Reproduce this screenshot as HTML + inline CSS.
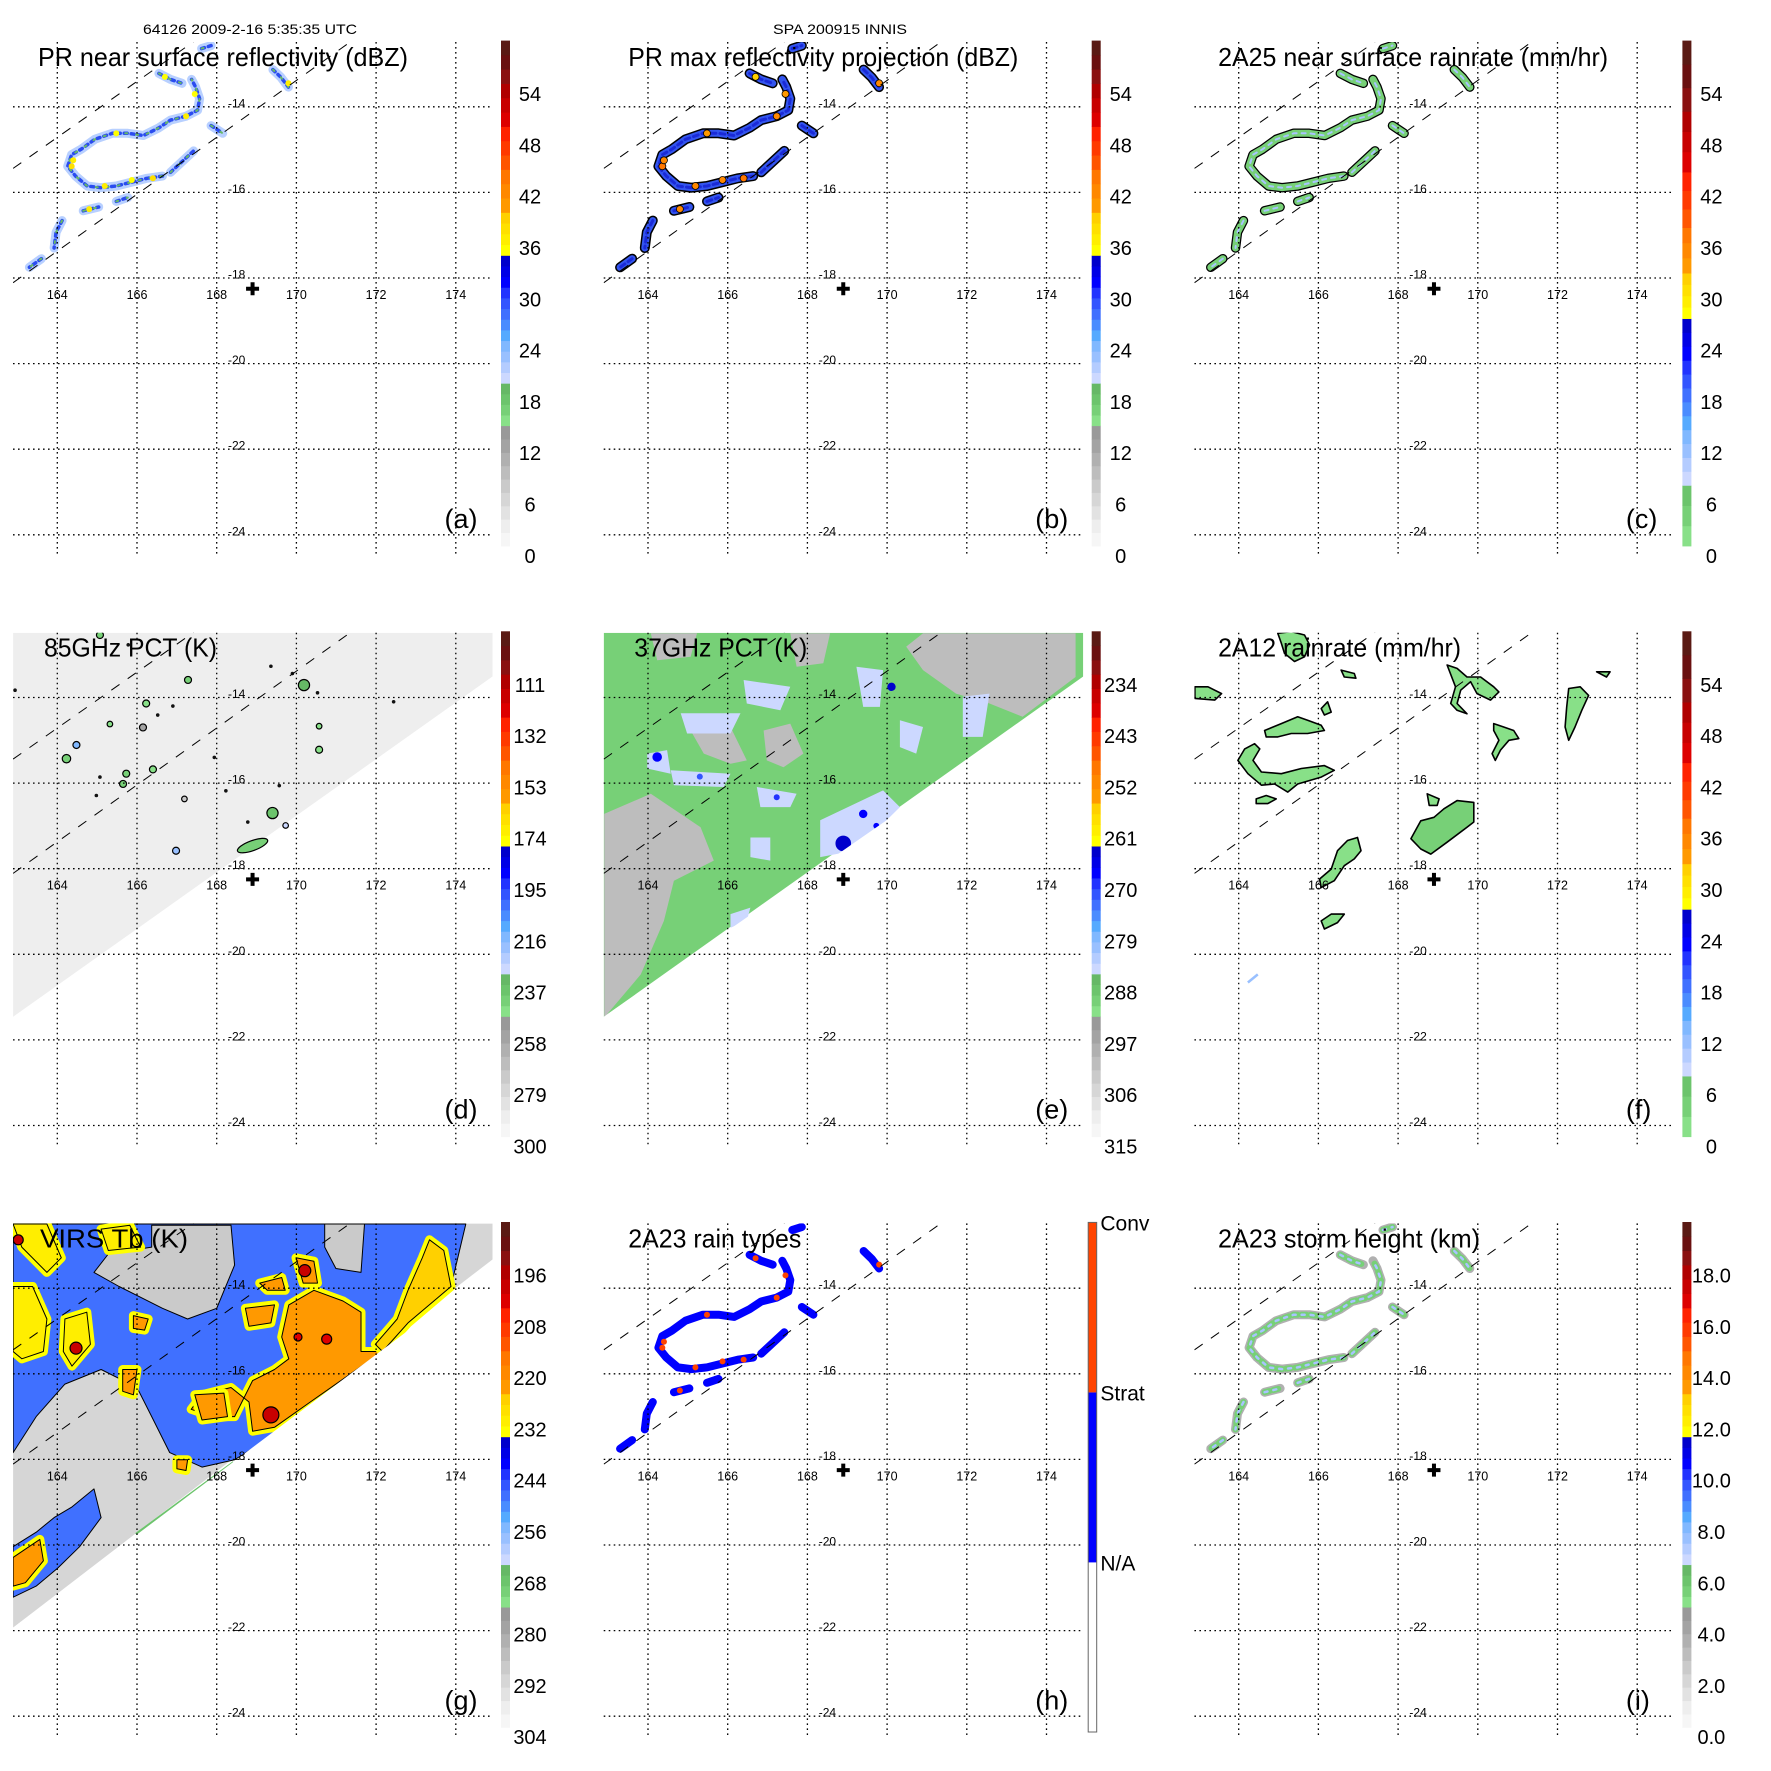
<!DOCTYPE html>
<html><head><meta charset="utf-8"><style>
html,body{margin:0;padding:0;background:#fff;}
svg{display:block;font-family:"Liberation Sans",Arial,sans-serif;}
</style></head><body>
<svg id="fig" width="1771" height="1771" viewBox="0 0 1771 1771" xmlns="http://www.w3.org/2000/svg">
<defs><clipPath id="plotclip" clipPathUnits="userSpaceOnUse"><rect x="13" y="42" width="479.5" height="512"/></clipPath></defs>
<rect x="0" y="0" width="1771" height="1771" fill="#fff"/>
<text x="250" y="34" font-size="14" text-anchor="middle" textLength="214" lengthAdjust="spacingAndGlyphs">64126 2009-2-16 5:35:35 UTC</text>
<text x="840" y="34" font-size="14" text-anchor="middle" textLength="134" lengthAdjust="spacingAndGlyphs">SPA 200915 INNIS</text>
</svg>
<script>
// ---------- shared axis data ----------
const lonTicks = [164,166,168,170,172,174];
const latTicks = [-14,-16,-18,-20,-22,-24];
const labelsDBZ = ['0','6','12','18','24','30','36','42','48','54'];
const labelsRain = ['0','6','12','18','24','30','36','42','48','54'];
const labels85 = ['300','279','258','237','216','195','174','153','132','111'];
const labels37 = ['315','306','297','288','279','270','261','252','243','234'];
const labelsIR = ['304','292','280','268','256','244','232','220','208','196'];
const labelsHt = ['0.0','2.0','4.0','6.0','8.0','10.0','12.0','14.0','16.0','18.0'];
const rainTypeLabels = ['N/A','Strat','Conv'];

// ---------- TRMM swath edges (lon/lat) ----------
const swathEdgeLon = [[162.89,171.36],[162.89,167.42]];
const swathEdgeLat = [[-18.11,-12.48],[-15.44,-12.48]];
const tmiSwathLon = [162.89,174.92,174.92,162.89];
const tmiSwathLat = [-12.49,-12.49,-13.51,-21.46];
const irSwathLat = [-12.49,-12.49,-13.33,-21.93];
const centerLon = 168.9, centerLat = -18.25;

// ---------- PR rain band (polylines lon/lat) ----------
const bandLons = [
 [166.64,166.25,165.87,165.48,165.09,164.75,164.46,164.26,164.36,164.60,164.94,165.38,165.77,166.16,166.55,166.84,167.23,167.52,167.57,167.47,167.37],
 [166.55,166.84,167.13],[167.62,167.86],[169.41,169.61,169.80],[164.65,165.04],
 [164.12,163.97,163.92],[167.86,168.15],[165.48,165.77],[166.84,167.42],[163.60,163.30]
];
const bandLats = [
 [-15.62,-15.67,-15.76,-15.85,-15.89,-15.85,-15.62,-15.39,-15.12,-14.99,-14.76,-14.62,-14.62,-14.67,-14.49,-14.31,-14.22,-14.08,-13.81,-13.54,-13.36],
 [-13.22,-13.36,-13.45],[-12.64,-12.57],[-13.13,-13.31,-13.54],[-16.43,-16.34],
 [-16.66,-16.93,-17.30],[-14.44,-14.62],[-16.21,-16.12],[-15.53,-15.03],[-17.55,-17.75]
];
const coreLon = [164.36,164.40,165.19,165.87,166.40,167.23,165.48,164.80,169.80,167.45,166.70];
const coreLat = [-15.39,-15.25,-15.85,-15.71,-15.67,-14.22,-14.62,-16.39,-13.45,-13.70,-13.30];
const coreDBZa = [38,37,37,36,38,37,36,37,37,36,36];
const coreDBZb = [44,42,43,42,44,42,41,42,42,41,40];

// ---------- 2A12 rain blobs ----------
const fBlobLons = [
 [164.65,165.07,165.48,165.73,166.07,166.15,165.73,165.32,164.98,164.69],
 [163.98,164.15,164.40,164.53,164.36,164.57,165.07,165.57,166.15,166.40,166.07,165.48,165.23,164.90,164.57,164.23],
 [164.98,165.32,165.65,165.78,165.65,165.40,165.15,165.07],
 [169.23,169.48,169.73,170.07,170.40,170.53,170.32,169.98,169.82,169.57,169.48,169.73,169.48,169.32,169.44],
 [170.40,170.65,170.90,171.03,170.78,170.57,170.44,170.36,170.53,170.40],
 [172.28,172.57,172.78,172.61,172.44,172.28,172.19,172.23],
 [168.32,168.57,168.90,169.15,169.48,169.90,169.90,169.73,169.23,168.82,168.57],
 [166.48,166.73,166.98,167.07,166.90,166.65,166.40,166.07,166.03,166.32],
 [166.07,166.32,166.65,166.48,166.15],
 [164.44,164.69,164.94,164.73,164.44],
 [166.07,166.23,166.32,166.15],[166.57,166.90,166.94,166.65],[172.98,173.32,173.23],
 [162.90,163.23,163.57,163.40,162.90],[168.73,169.03,168.98,168.78]
];
const fBlobLats = [
 [-14.77,-14.61,-14.45,-14.53,-14.65,-14.77,-14.84,-14.84,-14.92,-14.92],
 [-15.47,-15.20,-15.08,-15.20,-15.47,-15.74,-15.78,-15.66,-15.59,-15.70,-15.86,-16.02,-16.21,-16.02,-16.05,-15.78],
 [-12.50,-12.46,-12.54,-12.77,-13.05,-13.16,-12.97,-12.73],
 [-13.24,-13.32,-13.52,-13.52,-13.75,-13.87,-14.06,-13.91,-13.63,-13.83,-14.14,-14.38,-14.30,-14.14,-13.75],
 [-14.61,-14.69,-14.77,-14.96,-15.00,-15.23,-15.47,-15.31,-15.00,-14.77],
 [-13.79,-13.75,-13.95,-14.30,-14.69,-15.00,-14.69,-14.22],
 [-17.30,-16.88,-16.80,-16.60,-16.41,-16.45,-16.91,-17.03,-17.38,-17.66,-17.54],
 [-17.58,-17.34,-17.27,-17.58,-17.77,-17.93,-18.28,-18.44,-18.24,-18.01],
 [-19.22,-19.06,-19.06,-19.26,-19.41],
 [-16.37,-16.29,-16.37,-16.48,-16.48],
 [-14.26,-14.10,-14.34,-14.41],[-13.36,-13.44,-13.55,-13.52],[-13.40,-13.40,-13.52],
 [-13.75,-13.75,-13.91,-14.06,-14.02],[-16.25,-16.37,-16.52,-16.52]
];
const fBlobRain = [3,3,3,3,3,3,4,3,3,3,2,2,2,3,2];
const fLineLon = [164.23,164.48], fLineLat = [-20.66,-20.47], fLineRain = 12;

// ---------- 85 GHz PCT cells ----------
const dDotLon = [167.28,170.19,166.23,166.15,164.48,164.23,166.40,165.73,165.65,169.40,168.90,166.98,170.57,170.57,165.07,164.98,167.19,168.23,168.78,169.73,172.44,167.94,169.57,169.90,169.36,170.53,165.07,165.78,162.94,165.32,166.90,166.52];
const dDotLat = [-13.59,-13.71,-14.14,-14.70,-15.11,-15.43,-15.68,-15.78,-16.02,-16.70,-17.46,-17.58,-14.67,-15.22,-15.86,-16.29,-16.37,-16.18,-16.91,-16.99,-14.10,-15.40,-16.06,-13.44,-13.27,-13.89,-12.54,-12.77,-13.83,-14.62,-14.20,-14.41];
const dDotTb = [240,232,245,255,215,240,245,240,240,236,240,220,245,245,270,270,270,270,270,225,270,270,270,270,270,270,240,195,270,245,270,270];
const dDotSize = [5,8,5,5,5,6,5,5,5,8,16,5,4,5,3,3,4,3,3,4,3,3,3,3,3,3,5,3,3,4,3,3];
const dBgTb = 290;

// ---------- 37 GHz PCT patches ----------
const ePatchLons = [
 [162.90,164.07,165.32,165.65,164.65,164.40,163.82,162.90],
 [170.90,174.73,174.73,173.40,172.57,171.73,170.90,170.48],
 [165.07,166.07,166.48,166.07,165.40],[166.90,167.57,167.90,167.40,166.98],
 [164.07,165.23,165.07,164.23],[167.57,168.57,168.40,167.73],
 [163.98,164.48,164.57,163.98],[164.57,166.07,165.90,164.65],[164.82,166.32,166.07,164.98],
 [166.40,167.57,167.32,166.48],[168.32,169.90,170.32,169.23,168.32],[169.23,169.90,169.82,169.40],
 [170.32,170.90,170.73,170.32],[171.90,172.57,172.40,171.90],[166.57,167.07,167.07,166.57],
 [166.07,166.57,166.48,166.07],[166.73,167.73,167.57,166.82]
];
const ePatchLats = [
 [-16.72,-16.25,-17.03,-17.81,-18.28,-19.22,-20.47,-21.48],
 [-12.50,-12.50,-13.52,-14.45,-14.14,-13.91,-13.36,-12.81],
 [-14.77,-14.69,-15.47,-15.55,-15.31],[-14.77,-14.61,-15.31,-15.63,-15.47],
 [-12.50,-12.50,-13.05,-13.13],[-12.50,-12.50,-13.20,-13.28],
 [-15.31,-15.23,-15.78,-15.66],[-15.70,-15.78,-16.09,-16.05],[-14.37,-14.37,-14.84,-14.84],
 [-13.59,-13.75,-14.30,-14.14],[-16.87,-16.17,-16.56,-17.57,-17.73],[-13.28,-13.36,-14.22,-14.22],
 [-14.53,-14.69,-15.31,-15.16],[-13.98,-13.91,-14.92,-14.92],[-17.27,-17.27,-17.81,-17.73],
 [-19.06,-18.91,-19.22,-19.38],[-16.09,-16.25,-16.56,-16.56]
];
const ePatchTb = [300,300,300,300,300,300,283,283,283,283,283,283,283,283,283,283,283];
const eSpotLon = [164.23,170.11,168.90,169.40,167.23,169.73,165.30];
const eSpotLat = [-15.39,-13.75,-17.41,-16.72,-16.33,-17.00,-15.85];
const eSpotTb = [266,264,263,266,268,266,270];
const eSpotSize = [8,7,13,7,5,5,5];
const eBgTb = 290;

// ---------- VIRS IR Tb polygons ----------
const gPolyLons = [
 [162.89,174.25,173.88,172.16,170.17,168.45,167.63,166.82,166.37,166.00,165.10,164.19,163.47,162.89],
 [162.89,163.47,163.92,164.37,164.92,165.10,164.56,164.01,163.47,162.89],
 [166.37,168.36,168.45,168.00,167.27,166.64,165.55,164.92,165.28,166.37],
 [170.71,171.71,171.62,170.99,170.71],
 [169.81,170.44,171.17,171.62,171.62,172.16,170.35,169.45,168.90,168.81,168.36,167.63,167.36,167.90,168.45,168.90,169.45,169.81,169.63],
 [171.98,172.53,172.80,173.16,173.34,173.70,173.88,172.80,172.16],
 [162.89,163.74,164.10,163.74,163.11],
 [162.89,163.38,163.74,163.65,163.11,162.89],
 [164.19,164.74,164.83,164.37,164.15],
 [162.89,163.29,163.56,163.65,163.20,162.89],
 [165.64,166.00,165.91,165.64],[165.91,166.28,166.19,165.91],[168.72,169.45,169.36,168.81],
 [169.99,170.44,170.53,170.17],[169.08,169.63,169.72,169.27],[167.00,167.27,167.23,167.00],
 [167.45,168.18,168.27,167.63],[165.10,165.82,166.09,165.28]
];
const gPolyLats = [
 [-12.50,-12.50,-13.96,-15.48,-17.00,-18.01,-18.18,-17.84,-17.00,-16.32,-15.90,-16.24,-17.00,-17.84],
 [-20.04,-19.70,-19.36,-19.11,-18.69,-19.36,-20.04,-20.54,-20.96,-21.22],
 [-12.53,-12.53,-13.46,-14.47,-14.72,-14.47,-13.96,-13.63,-13.20,-13.04],
 [-12.50,-12.50,-13.63,-13.54,-13.04],
 [-14.39,-14.05,-14.30,-14.56,-15.48,-15.48,-16.66,-17.25,-17.34,-16.66,-16.32,-16.49,-16.83,-17.00,-17.00,-16.16,-15.90,-15.65,-15.14],
 [-15.31,-14.72,-14.05,-13.29,-12.87,-13.12,-13.96,-14.81,-15.48],
 [-12.50,-12.50,-13.29,-13.63,-13.04],
 [-13.96,-13.96,-14.72,-15.48,-15.65,-15.48],
 [-14.72,-14.56,-15.31,-15.82,-15.48],
 [-20.29,-20.04,-19.87,-20.37,-20.88,-20.96],
 [-15.90,-15.90,-16.49,-16.41],[-14.64,-14.72,-14.98,-14.94],[-14.47,-14.39,-14.81,-14.89],
 [-13.29,-13.37,-13.88,-13.88],[-13.88,-13.75,-14.05,-14.05],[-18.01,-18.01,-18.26,-18.22],
 [-16.49,-16.45,-17.00,-17.08],[-12.62,-12.53,-13.04,-13.12]
];
const gPolyTb = [247,247,286,286,221,226,231,231,231,221,221,221,221,221,221,221,221,231];
const gSpotLon = [169.36,170.21,170.76,170.04,163.02,164.47];
const gSpotLat = [-16.96,-13.59,-15.19,-15.14,-12.87,-15.40];
const gSpotTb = [200,200,202,202,200,200];
const gSpotSize = [8,6,5,4,5,6];
const gFringeLon = [166.0,168.45], gFringeLat = [-19.78,-18.10], gFringeTb = 268;
const gBgTb = 292;

// ---------- geometry helpers ----------
const NS = 'http://www.w3.org/2000/svg';
const SPACING = 590.7;
const X = lon => 57.3 + (lon - 164) * 39.85;
const Y = lat => 106.8 + (-14 - lat) * 42.8;
const BAR_TOP = 40.6, BAR_BOT = 546, LBL0 = 556.3, LSTEP = 51.3;

const segStd = [
 [0,0.238,['#f6f6f6','#eeeeee','#e2e2e2','#d6d6d6','#cacaca','#bdbdbd','#b0b0b0','#a3a3a3','#999999']],
 [0.238,0.322,['#88e088','#77d077','#6cc46c','#66b866']],
 [0.322,0.575,['#ccd8ff','#b4ccff','#99c0ff','#80b8ff','#55aaff','#4a8cff','#4070ff','#3355ff','#2233ff','#0000ff','#0000e6','#0000cc']],
 [0.575,0.66,['#ffff00','#ffee00','#ffe000','#ffd000']],
 [0.66,0.745,['#ff9900','#ff8800','#ff7700']],
 [0.745,0.83,['#ff5500','#ff3a00','#ff2200']],
 [0.83,0.915,['#dd0000','#c80000','#b00000']],
 [0.915,1,['#8a1010','#6a1010','#5a1a14']]
];
const segRain = [
 [0,0.12,['#88e088','#77d077','#6cc46c']],
 [0.12,0.45,['#ccd8ff','#b4ccff','#99c0ff','#80b8ff','#55aaff','#4a8cff','#4070ff','#3355ff','#2233ff','#0000ff','#0000e6','#0000cc']],
 [0.45,0.54,['#ffff00','#ffee00','#ffe000','#ffd000']],
 [0.54,0.63,['#ff9900','#ff8800','#ff7700']],
 [0.63,0.74,['#ff5500','#ff3a00','#ff2200']],
 [0.74,0.86,['#dd0000','#c80000','#b00000']],
 [0.86,1,['#8a1010','#6a1010','#5a1a14']]
];
function cmap(frac, segs){
  frac = Math.max(0, Math.min(0.9999, frac));
  for (const s of segs){ if (frac >= s[0] && frac < s[1]){ const k = Math.floor((frac - s[0]) / (s[1] - s[0]) * s[2].length); return s[2][Math.min(k, s[2].length - 1)]; } }
  return '#000';
}
function fracOf(v, v0, step){ const y = LBL0 - ((v - v0) / step) * LSTEP; return (BAR_BOT - y) / (BAR_BOT - BAR_TOP); }
function mk(tag, parent){ const e = document.createElementNS(NS, tag); parent.appendChild(e); return e; }
function polyPath(lons, lats){ let d = ''; for (let i = 0; i < lons.length; i++) d += (i ? 'L' : 'M') + X(lons[i]).toFixed(1) + ' ' + Y(lats[i]).toFixed(1); return d + 'Z'; }
function linePath(lons, lats){ let d = ''; for (let i = 0; i < lons.length; i++) d += (i ? 'L' : 'M') + X(lons[i]).toFixed(1) + ' ' + Y(lats[i]).toFixed(1); return d; }

const panels = [
 {id:'a', col:0,row:0, title:'PR near surface reflectivity (dBZ)', tx:38, tw:370, segs:segStd, labels:labelsDBZ, v0:0, step:6},
 {id:'b', col:1,row:0, title:'PR max reflectivity projection (dBZ)', tx:37.6, tw:390, segs:segStd, labels:labelsDBZ, v0:0, step:6},
 {id:'c', col:2,row:0, title:'2A25 near surface rainrate (mm/hr)', tx:36.7, tw:390, segs:segRain, labels:labelsRain, v0:0, step:6},
 {id:'d', col:0,row:1, title:'85GHz PCT (K)', tx:44, tw:173, segs:segStd, labels:labels85, v0:300, step:-21},
 {id:'e', col:1,row:1, title:'37GHz PCT (K)', tx:43.6, tw:173, segs:segStd, labels:labels37, v0:315, step:-9},
 {id:'f', col:2,row:1, title:'2A12 rainrate (mm/hr)', tx:36.7, tw:243, segs:segRain, labels:labelsRain, v0:0, step:6},
 {id:'g', col:0,row:2, title:'VIRS Tb (K)', tx:40, tw:148, segs:segStd, labels:labelsIR, v0:304, step:-12},
 {id:'h', col:1,row:2, title:'2A23 rain types', tx:37.6, tw:173, segs:null, labels:rainTypeLabels},
 {id:'i', col:2,row:2, title:'2A23 storm height (km)', tx:36.6, tw:262, segs:segStd, labels:labelsHt, v0:0, step:2}
];

const svg = document.getElementById('fig');

function drawBand(g, p){
  const col = v => cmap(fracOf(v, p.v0, p.step), p.segs);
  const layers = {
    a: [['#b8d0ff',9,null],['#2a4cf0',3.5,'3 4'],['#66b866',2,'2 9']],
    b: [['#000',10,null],['#3355ee',7,null],['#1a2ad8',3,'5 4']],
    c: [['#000',9.5,null],['#77d077',7,null],['#a8c4ff',2,'4 5']],
    h: [['#0000ff',8,null]],
    i: [['#b0b0b0',9,null],['#77d077',6,'5 4'],['#a8c4ff',2.5,'3 6']]
  }[p.id];
  layers.forEach(L => {
    for (let k = 0; k < bandLons.length; k++){
      const pl = mk('path', g);
      
      
      pl.setAttribute('d', linePath(bandLons[k], bandLats[k]));
      pl.setAttribute('fill', 'none');
      pl.setAttribute('stroke', L[0]);
      pl.setAttribute('stroke-width', L[1]);
      pl.setAttribute('stroke-linecap', 'round');
      pl.setAttribute('stroke-linejoin', 'round');
      if (L[2]) pl.setAttribute('stroke-dasharray', L[2]);
    }
  });
  if (p.id === 'a' || p.id === 'b' || p.id === 'h'){
    for (let k = 0; k < coreLon.length; k++){
      const c = mk('circle', g);
      
      
      c.setAttribute('cx', X(coreLon[k]));
      c.setAttribute('cy', Y(coreLat[k]));
      c.setAttribute('r', p.id === 'b' ? 3.5 : 3);
      c.setAttribute('fill', p.id === 'h' ? '#ff4400' : col(p.id === 'a' ? coreDBZa[k] : coreDBZb[k]));
      if (p.id === 'b') { c.setAttribute('stroke', '#000'); c.setAttribute('stroke-width', '0.8'); }
    }
  }
}

function drawPoly(g, lons, lats, fill, stroke, sw, name){
  const pth = mk('path', g);
  
  
  pth.setAttribute('d', polyPath(lons, lats));
  pth.setAttribute('fill', fill);
  if (stroke){ pth.setAttribute('stroke', stroke); pth.setAttribute('stroke-width', sw); pth.setAttribute('stroke-linejoin', 'round'); }
  return pth;
}
function drawDot(g, lon, lat, r, fill, stroke, name){
  const c = mk('circle', g);
  
  
  c.setAttribute('cx', X(lon)); c.setAttribute('cy', Y(lat)); c.setAttribute('r', r);
  c.setAttribute('fill', fill);
  if (stroke){ c.setAttribute('stroke', stroke); c.setAttribute('stroke-width', 1.2); }
}

panels.forEach(p => {
  const pg = mk('g', svg);
  
  
  pg.setAttribute('transform', 'translate(' + (p.col * SPACING) + ',' + (p.row * SPACING) + ')');
  const col = v => cmap(fracOf(v, p.v0, p.step), p.segs);

  const dg = mk('g', pg);
  
  
  dg.setAttribute('clip-path', 'url(#plotclip)');

  if (p.id === 'd'){
    drawPoly(dg, tmiSwathLon, tmiSwathLat, col(dBgTb), null, 0, 'tmi-swath');
    for (let k = 0; k < dDotLon.length; k++){
      const big = dDotSize[k] >= 4;
      if (dDotSize[k] >= 14){
        const e = mk('ellipse', dg);
        
        
        e.setAttribute('cx', X(dDotLon[k])); e.setAttribute('cy', Y(dDotLat[k]));
        e.setAttribute('rx', dDotSize[k]); e.setAttribute('ry', 5);
        e.setAttribute('transform', 'rotate(-20 ' + X(dDotLon[k]) + ' ' + Y(dDotLat[k]) + ')');
        e.setAttribute('fill', col(dDotTb[k])); e.setAttribute('stroke', '#000'); e.setAttribute('stroke-width', 1.2);
      } else {
        drawDot(dg, dDotLon[k], dDotLat[k], big ? dDotSize[k] * 0.7 : 1.8, big ? col(dDotTb[k]) : '#111', big ? '#000' : null, 'pct-cell');
      }
    }
  }
  if (p.id === 'e'){
    drawPoly(dg, tmiSwathLon, tmiSwathLat, col(eBgTb), null, 0, 'tmi-swath');
    for (let k = 0; k < ePatchLons.length; k++) drawPoly(dg, ePatchLons[k], ePatchLats[k], col(ePatchTb[k]), null, 0, 'pct-patch');
    for (let k = 0; k < eSpotLon.length; k++) drawDot(dg, eSpotLon[k], eSpotLat[k], eSpotSize[k] * 0.6, col(eSpotTb[k]), null, 'pct-spot');
    drawPoly(dg, [174.92,174.92,162.89,162.89,175.5], [-13.51,-25,-25,-21.46,-13.3], '#fff', null, 0, 'swath-mask');
  }
  if (p.id === 'g'){
    drawPoly(dg, tmiSwathLon, irSwathLat, col(gBgTb), null, 0, 'ir-swath');
    for (let k = 0; k < gPolyLons.length; k++){
      const yl = gPolyTb[k] < 232 ? col(232) : null;
      if (yl) drawPoly(dg, gPolyLons[k], gPolyLats[k], yl, yl, 9, 'ir-cloud-edge');
      drawPoly(dg, gPolyLons[k], gPolyLats[k], col(gPolyTb[k]), '#000', 1, 'ir-cloud');
    }
    for (let k = 0; k < gSpotLon.length; k++) drawDot(dg, gSpotLon[k], gSpotLat[k], gSpotSize[k], col(gSpotTb[k]), '#000', 'ir-cold-spot');
    const fr = mk('path', dg);
    
    
    fr.setAttribute('d', linePath(gFringeLon, gFringeLat));
    fr.setAttribute('stroke', col(gFringeTb)); fr.setAttribute('stroke-width', 6); fr.setAttribute('fill', 'none');
    drawPoly(dg, [174.92,174.92,162.89,162.89,175.5], [-13.33,-25,-25,-21.93,-13.1], '#fff', null, 0, 'swath-mask');
  }
  if (p.id === 'f'){
    for (let k = 0; k < fBlobLons.length; k++) drawPoly(dg, fBlobLons[k], fBlobLats[k], col(fBlobRain[k]), '#000', 1.6, 'rain-blob');
    const fl = mk('path', dg);
    
    
    fl.setAttribute('d', linePath(fLineLon, fLineLat));
    fl.setAttribute('stroke', col(fLineRain)); fl.setAttribute('stroke-width', 2.5); fl.setAttribute('fill', 'none');
  }
  if (['a','b','c','h','i'].includes(p.id)) drawBand(dg, p);

  for (let k = 0; k < swathEdgeLon.length; k++){
    const sl = mk('path', dg);
    
    
    sl.setAttribute('d', linePath(swathEdgeLon[k], swathEdgeLat[k]));
    sl.setAttribute('stroke', '#000'); sl.setAttribute('stroke-width', 1); sl.setAttribute('stroke-dasharray', '10 10'); sl.setAttribute('fill', 'none');
  }

  lonTicks.forEach(lon => {
    const l = mk('line', pg);
    
    
    l.setAttribute('x1', X(lon)); l.setAttribute('x2', X(lon)); l.setAttribute('y1', 42); l.setAttribute('y2', 554);
    l.setAttribute('stroke', '#000'); l.setAttribute('stroke-width', 1.3); l.setAttribute('stroke-dasharray', '1.6 3.4');
    const t = mk('text', pg);
    
    
    t.setAttribute('x', X(lon)); t.setAttribute('y', 299); t.setAttribute('font-size', 12.5); t.setAttribute('text-anchor', 'middle');
    t.textContent = String(lon);
  });
  latTicks.forEach(lat => {
    const l = mk('line', pg);
    
    
    l.setAttribute('x1', 13); l.setAttribute('x2', 492.5); l.setAttribute('y1', Y(lat)); l.setAttribute('y2', Y(lat));
    l.setAttribute('stroke', '#000'); l.setAttribute('stroke-width', 1.3); l.setAttribute('stroke-dasharray', '1.6 3.4');
    const t = mk('text', pg);
    
    
    t.setAttribute('x', 228); t.setAttribute('y', Y(lat) + 0.5); t.setAttribute('font-size', 12);
    t.textContent = String(lat);
  });

  const cx = X(centerLon), cy = Y(centerLat);
  const cr = mk('path', pg);
  
  
  cr.setAttribute('d', 'M' + (cx - 6.5) + ' ' + cy + 'H' + (cx + 6.5) + 'M' + cx + ' ' + (cy - 6.5) + 'V' + (cy + 6.5));
  cr.setAttribute('stroke', '#000'); cr.setAttribute('stroke-width', 4);

  const tt = mk('text', pg);
  
  
  tt.setAttribute('x', p.tx); tt.setAttribute('y', 66); tt.setAttribute('font-size', 26);
  tt.setAttribute('textLength', p.tw); tt.setAttribute('lengthAdjust', 'spacingAndGlyphs');
  tt.textContent = p.title;
  const lt = mk('text', pg);
  
  
  lt.setAttribute('x', 444.5); lt.setAttribute('y', 528); lt.setAttribute('font-size', 27);
  lt.textContent = '(' + p.id + ')';

  const cb = mk('g', pg);
  
  
  if (p.segs){
    p.segs.forEach(s => {
      const n = s[2].length;
      for (let j = 0; j < n; j++){
        const f0 = s[0] + (s[1] - s[0]) * j / n, f1 = s[0] + (s[1] - s[0]) * (j + 1) / n;
        const r = mk('rect', cb);
        
        
        r.setAttribute('x', 501); r.setAttribute('width', 9);
        r.setAttribute('y', (BAR_BOT - f1 * (BAR_BOT - BAR_TOP)).toFixed(2));
        r.setAttribute('height', ((f1 - f0) * (BAR_BOT - BAR_TOP) + 0.4).toFixed(2));
        r.setAttribute('fill', s[2][j]);
      }
    });
    p.labels.forEach((lab, i) => {
      const t = mk('text', cb);
      
      
      t.setAttribute('x', 530); t.setAttribute('y', LBL0 - i * LSTEP + 6.5); t.setAttribute('font-size', 20); t.setAttribute('text-anchor', 'middle');
      t.textContent = lab;
    });
  } else {
    const ys = [550.6, 381, 211, 41];
    const fills = ['#ffffff', '#0000ff', '#ff4400'];
    for (let j = 0; j < 3; j++){
      const r = mk('rect', cb);
      
      
      r.setAttribute('x', 497.5); r.setAttribute('width', 8.5);
      r.setAttribute('y', ys[j + 1]); r.setAttribute('height', ys[j] - ys[j + 1]);
      r.setAttribute('fill', fills[j]);
    }
    const bd = mk('rect', cb);
    
    
    bd.setAttribute('x', 497.5); bd.setAttribute('width', 8.5); bd.setAttribute('y', 41); bd.setAttribute('height', 509.6);
    bd.setAttribute('fill', 'none'); bd.setAttribute('stroke', '#666'); bd.setAttribute('stroke-width', 1);
    p.labels.forEach((lab, i) => {
      const t = mk('text', cb);
      
      
      t.setAttribute('x', 509.7); t.setAttribute('y', ys[i + 1] + 8); t.setAttribute('font-size', 21);
      t.textContent = lab;
    });
  }
});
</script>
</body></html>
